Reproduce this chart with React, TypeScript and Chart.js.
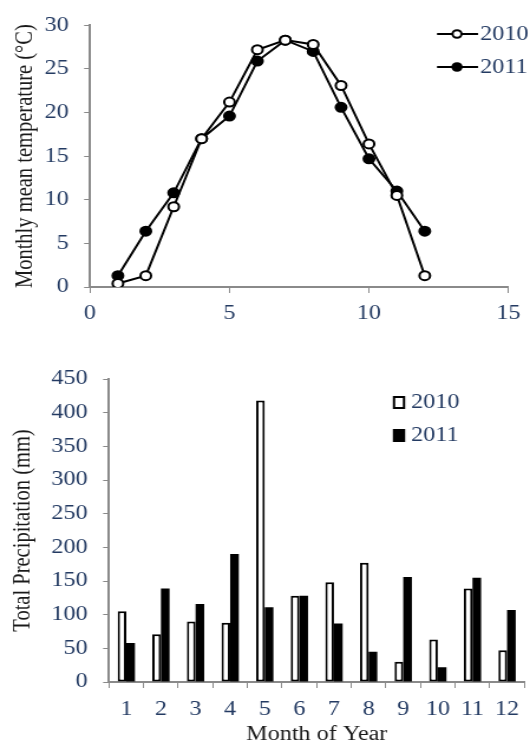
import React, { useEffect, useRef } from "react";
import Chart from "chart.js/auto";

const months = [1, 2, 3, 4, 5, 6, 7, 8, 9, 10, 11, 12];
const monthLabels = ["1", "2", "3", "4", "5", "6", "7", "8", "9", "10", "11", "12"];
const seriesNames = ["2010", "2011"];
const temp2010 = [0.4, 1.3, 9.2, 17.0, 21.2, 27.2, 28.3, 27.8, 23.1, 16.4, 10.5, 1.3];
const temp2011 = [1.3, 6.4, 10.8, 17.0, 19.6, 25.9, 28.3, 27.0, 20.6, 14.7, 11.0, 6.4];
const precip2010 = [105, 71, 90, 88, 418, 128, 148, 177, 30, 63, 139, 47];
const precip2011 = [58, 139, 116, 190, 111, 128, 87, 45, 156, 22, 155, 107];

const FONT = '"Liberation Serif", "Times New Roman", serif';
const TICK_COLOR = "#233a62";
const TITLE_COLOR = "#1a1a1a";
const AXIS_COLOR = "#8a8a8a";
const FS = 20.5;
// the reference drawing is horizontally stretched; render narrower and stretch with CSS
const CW = 449;
const SX = 530 / CW;
const px = (v: number) => v / SX;

const lineLegend = {
  id: "lineLegend",
  afterDraw(chart: any) {
    const ctx = chart.ctx;
    const rows = [34, 67];
    chart.data.datasets.forEach((ds: any, i: number) => {
      const y = rows[i];
      ctx.save();
      ctx.strokeStyle = "#000";
      ctx.lineWidth = 2;
      ctx.beginPath();
      ctx.moveTo(px(437), y);
      ctx.lineTo(px(478), y);
      ctx.stroke();
      ctx.beginPath();
      ctx.arc(px(457), y, 3.8, 0, Math.PI * 2);
      ctx.fillStyle = ds.pointBackgroundColor;
      ctx.fill();
      ctx.stroke();
      ctx.fillStyle = TICK_COLOR;
      ctx.font = FS + "px " + FONT;
      ctx.textBaseline = "middle";
      ctx.textAlign = "left";
      ctx.fillText(ds.label, px(480), y + 1);
      ctx.restore();
    });
  },
};

const barLegend = {
  id: "barLegend",
  afterDraw(chart: any) {
    const ctx = chart.ctx;
    const rows = [62, 95];
    chart.data.datasets.forEach((ds: any, i: number) => {
      const y = rows[i];
      ctx.save();
      ctx.fillStyle = ds.backgroundColor;
      ctx.fillRect(px(394), y - 5, px(10), 11);
      ctx.strokeStyle = "#000";
      ctx.lineWidth = 2;
      ctx.strokeRect(px(394), y - 5, px(10), 11);
      ctx.fillStyle = TICK_COLOR;
      ctx.font = FS + "px " + FONT;
      ctx.textBaseline = "middle";
      ctx.textAlign = "left";
      ctx.fillText(ds.label, px(411), y + 1);
      ctx.restore();
    });
  },
};

export default function App() {
  const topRef = useRef<HTMLCanvasElement>(null);
  const botRef = useRef<HTMLCanvasElement>(null);

  useEffect(() => {
    const tickFont = { family: FONT, size: FS };
    const top = new Chart(topRef.current as HTMLCanvasElement, {
      type: "line",
      data: {
        datasets: [
          {
            label: seriesNames[0],
            data: months.map((m, i) => ({ x: m, y: temp2010[i] })),
            borderColor: "#000",
            borderWidth: 2,
            pointRadius: 4.5,
            pointBorderWidth: 2,
            pointBackgroundColor: "#fff",
            pointBorderColor: "#000",
            tension: 0,
          },
          {
            label: seriesNames[1],
            data: months.map((m, i) => ({ x: m, y: temp2011[i] })),
            borderColor: "#000",
            borderWidth: 2,
            pointRadius: 4.5,
            pointBorderWidth: 2,
            pointBackgroundColor: "#000",
            pointBorderColor: "#000",
            tension: 0,
          },
        ],
      },
      options: {
        animation: false,
        responsive: false,
        devicePixelRatio: 1,
        layout: { padding: { left: 0, right: px(21), top: 15, bottom: 0 } },
        plugins: { legend: { display: false }, tooltip: { enabled: false } },
        scales: {
          x: {
            type: "linear",
            min: 0,
            max: 15,
            ticks: { stepSize: 5, font: tickFont, color: TICK_COLOR, padding: 8, maxRotation: 0 },
            grid: { display: true, drawOnChartArea: false, drawTicks: true, tickLength: 6, color: AXIS_COLOR },
            border: { color: AXIS_COLOR, width: 2 },
            afterFit: (s: any) => {
              s.height = 48;
            },
          },
          y: {
            min: 0,
            max: 30,
            ticks: { stepSize: 5, font: tickFont, color: TICK_COLOR, padding: 13 },
            grid: { display: true, drawOnChartArea: false, drawTicks: true, tickLength: 5, color: AXIS_COLOR },
            border: { color: AXIS_COLOR, width: 2 },
            title: {
              display: true,
              text: "Monthly mean temperature (°C)",
              font: { family: FONT, size: FS, lineHeight: 1 },
              color: TITLE_COLOR,
              padding: { top: 11, bottom: 0 },
            },
            afterFit: (s: any) => {
              s.width = px(90);
            },
          },
        },
      } as any,
      plugins: [lineLegend],
    });

    const bot = new Chart(botRef.current as HTMLCanvasElement, {
      type: "bar",
      data: {
        labels: monthLabels,
        datasets: [
          {
            label: seriesNames[0],
            data: precip2010,
            backgroundColor: "#fff",
            borderColor: "#000",
            borderWidth: 2,
            borderSkipped: false,
            categoryPercentage: 0.5,
            barPercentage: 1,
          },
          {
            label: seriesNames[1],
            data: precip2011,
            backgroundColor: "#000",
            borderColor: "#000",
            borderWidth: 0,
            categoryPercentage: 0.5,
            barPercentage: 1,
          },
        ],
      },
      options: {
        animation: false,
        responsive: false,
        devicePixelRatio: 1,
        layout: { padding: { left: 0, right: px(5), top: 39, bottom: 0 } },
        plugins: { legend: { display: false }, tooltip: { enabled: false } },
        scales: {
          x: {
            ticks: { font: tickFont, color: TICK_COLOR, padding: 9, maxRotation: 0 },
            grid: { display: true, drawOnChartArea: false, drawTicks: true, tickLength: 6, color: AXIS_COLOR, offset: true },
            border: { color: AXIS_COLOR, width: 2 },
            title: {
              display: true,
              text: "Month of Year",
              font: { family: FONT, size: FS, lineHeight: 1 },
              color: TITLE_COLOR,
              padding: { top: 3, bottom: 0 },
            },
            afterFit: (s: any) => {
              s.height = 63;
            },
          },
          y: {
            min: 0,
            max: 450,
            ticks: { stepSize: 50, font: tickFont, color: TICK_COLOR, padding: 13 },
            grid: { display: true, drawOnChartArea: false, drawTicks: true, tickLength: 5, color: AXIS_COLOR },
            border: { color: AXIS_COLOR, width: 2 },
            title: {
              display: true,
              text: "Total Precipitation (mm)",
              font: { family: FONT, size: FS, lineHeight: 1 },
              color: TITLE_COLOR,
              padding: { top: 9, bottom: 0 },
            },
            afterFit: (s: any) => {
              s.width = px(109);
            },
          },
        },
      } as any,
      plugins: [barLegend],
    });

    return () => {
      top.destroy();
      bot.destroy();
    };
  }, []);

  return (
    <div style={{ position: "absolute", left: 0, top: 0, width: 530, height: 745, background: "#fff" }}>
      <canvas
        ref={topRef}
        width={CW}
        height={335}
        style={{ position: "absolute", left: 0, top: 0, width: 530, height: 335 }}
      />
      <canvas
        ref={botRef}
        width={CW}
        height={405}
        style={{ position: "absolute", left: 0, top: 340, width: 530, height: 405 }}
      />
    </div>
  );
}
